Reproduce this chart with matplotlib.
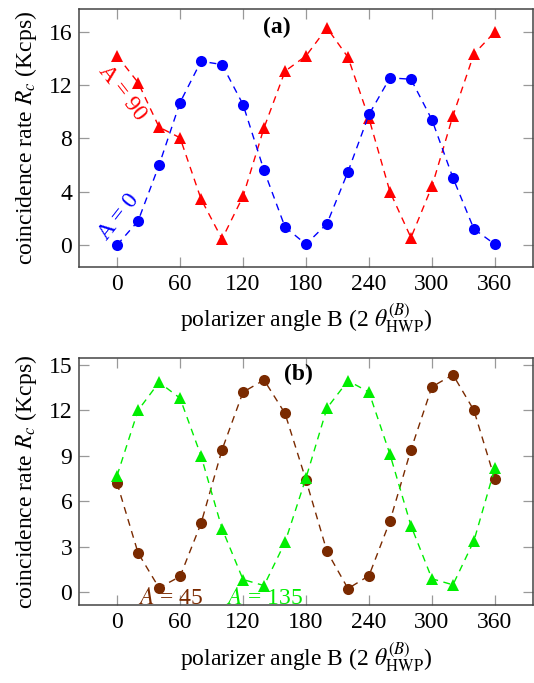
import matplotlib
matplotlib.use('Agg')
import matplotlib.pyplot as plt

plt.rcParams['font.family'] = ['Liberation Serif', 'DejaVu Serif']
plt.rcParams['mathtext.fontset'] = 'stix'

# polarizer angle B (2 theta_HWP), degrees
angles = [0, 20, 40, 60, 80, 100, 120, 140, 160, 180,
          200, 220, 240, 260, 280, 300, 320, 340, 360]

# panel (a), coincidence rate in Kcps
rate_A0 = [0.0, 1.8, 6.0, 10.7, 13.8, 13.55, 10.55, 5.6, 1.35, 0.05,
           1.6, 5.5, 9.8, 12.55, 12.45, 9.4, 5.05, 1.2, 0.05]
rate_A90 = [14.2, 12.2, 8.85, 8.05, 3.45, 0.45, 3.65, 8.8, 13.05, 14.2,
            16.3, 14.1, 9.5, 4.0, 0.55, 4.4, 9.7, 14.35, 16.0]

# panel (b)
rate_A45 = [7.2, 2.6, 0.3, 1.05, 4.55, 9.4, 13.2, 14.0, 11.8, 7.4,
            2.7, 0.25, 1.1, 4.7, 9.4, 13.55, 14.35, 12.0, 7.45]
rate_A135 = [7.7, 12.0, 13.85, 12.8, 9.0, 4.2, 0.85, 0.45, 3.3, 7.55,
             12.15, 13.95, 13.2, 9.1, 4.4, 0.9, 0.5, 3.4, 8.2]

xticks = [0, 60, 120, 180, 240, 300, 360]
yticks_a = [0, 4, 8, 12, 16]
yticks_b = [0, 3, 6, 9, 12, 15]

brown = '#7a2a00'
FS = 17

W, H = 534, 683
fig = plt.figure(figsize=(W / 100, H / 100), dpi=100)


def make_axes(top, bottom):
    ax = fig.add_axes([79.3 / W, (H - bottom) / H, (532.7 - 79.3) / W, (bottom - top) / H])
    for sp in ax.spines.values():
        sp.set_color('#444444')
        sp.set_linewidth(1.1)
    ax.tick_params(which='both', direction='in', length=7, width=0.9, color='#999999',
                   top=True, right=True, labelsize=FS, pad=5)
    ax.set_xlim(-36, 396)
    ax.set_xticks(xticks)
    ax.set_xlabel(r'polarizer angle B (2 $\theta^{(B)}_{\mathrm{HWP}}$)', fontsize=FS, labelpad=5)
    ax.set_ylabel(r'coincidence rate $R_c$ (Kcps)', fontsize=FS, labelpad=7)
    return ax


def series(ax, y, color, marker):
    ax.plot(angles, y, color=color, linestyle='--', dashes=(5, 4), linewidth=1.0,
            marker=marker, markersize=8, markeredgewidth=0)


# (a)
ax = make_axes(9.3, 266.7)
series(ax, rate_A90, 'red', '^')
series(ax, rate_A0, 'blue', 'o')
ax.set_ylim(-1.63, 17.7)
ax.set_yticks(yticks_a)
ax.text(152, 16.3, '(a)', fontsize=FS, fontweight='bold', ha='center', va='center')
ax.text(5, 11.4, 'A = 90', color='red', fontsize=FS, rotation=-52,
        ha='center', va='center', rotation_mode='anchor')
ax.text(1.5, 2.1, 'A = 0', color='blue', fontsize=FS, rotation=52,
        ha='center', va='center', rotation_mode='anchor')

# (b)
ax = make_axes(358.3, 605)
series(ax, rate_A45, brown, 'o')
series(ax, rate_A135, '#00ee00', '^')
ax.set_ylim(-0.83, 15.43)
ax.set_yticks(yticks_b)
ax.text(173, 14.36, '(b)', fontsize=FS, fontweight='bold', ha='center', va='center')
ax.text(51, -0.4, r'$A$ = 45', color=brown, fontsize=FS, ha='center', va='center')
ax.text(141, -0.4, r'$A$ = 135', color='#00ee00', fontsize=FS, ha='center', va='center')

fig.savefig('out.png', dpi=100)
